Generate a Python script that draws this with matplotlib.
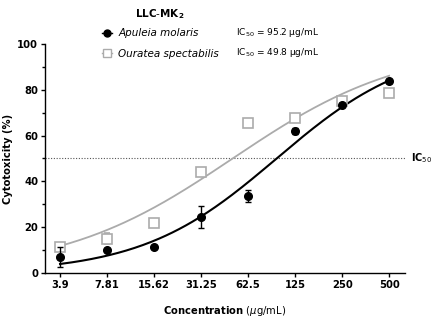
"""
Cytotoxicity of two plant extracts on LLC-MK2 cells.
"""

import matplotlib
matplotlib.use('Agg')
import matplotlib.pyplot as plt
import numpy as np

# Data
# ----------------------------------------------------------------------------

conc = [3.9, 7.81, 15.62, 31.25, 62.5, 125, 250, 500]
conc_labels = ['3.9', '7.81', '15.62', '31.25', '62.5', '125', '250', '500']

apuleia = [7.0, 10.2, 11.4, 24.5, 33.6, 62.0, 73.4, 83.8]
apuleia_err = [4.5, 0.8, 0.5, 4.7, 2.8, 1.2, 0.8, 0.8]

ouratea = [11.5, 15.0, 21.8, 44.0, 65.3, 67.8, 75.0, 78.4]
ouratea_err = [1.0, 2.5, 1.2, 1.5, 0.8, 1.0, 0.8, 0.8]

# fitted dose-response parameters (IC50 in ug/mL, Hill slope)
ic50_apuleia, hill_apuleia = 95.2, 1.0
ic50_ouratea, hill_ouratea = 49.8, 0.79

# Fitted curves
# ----------------------------------------------------------------------------

xfit = np.logspace(np.log10(conc[0]), np.log10(conc[-1]), 200)
fit_apuleia = 100 / (1 + (ic50_apuleia / xfit)**hill_apuleia)
fit_ouratea = 100 / (1 + (ic50_ouratea / xfit)**hill_ouratea)

# Plot
# ----------------------------------------------------------------------------

fig = plt.figure(figsize=(4.37, 3.25), dpi=100)
ax = fig.add_axes([0.103, 0.16, 0.824, 0.705])

gray = '#ababab'

ax.axhline(50, color='#555555', ls=(0, (1, 1.5)), lw=0.8, zorder=1)

ax.plot(xfit, fit_ouratea, color=gray, lw=1.3, zorder=2)
ax.plot(xfit, fit_apuleia, color='black', lw=1.5, zorder=3)

ax.errorbar(conc, ouratea, yerr=ouratea_err, fmt='s', ms=7, mfc='white',
            mec=gray, mew=1.2, ecolor=gray, elinewidth=1, capsize=2.5, zorder=4)
ax.errorbar(conc, apuleia, yerr=apuleia_err, fmt='o', ms=5.5, color='black',
            ecolor='black', elinewidth=1, capsize=2.5, zorder=5)

ax.set_xscale('log', base=2)
ax.set_xlim(3.9 / 2**0.32, 500 * 2**0.34)
ax.set_xticks(conc)
ax.set_xticklabels(conc_labels)
ax.xaxis.set_minor_locator(matplotlib.ticker.NullLocator())
ax.set_ylim(0, 100)
ax.set_yticks([0, 20, 40, 60, 80, 100])
ax.set_yticks([10, 30, 50, 70, 90], minor=True)

for s in ['top', 'right']:
    ax.spines[s].set_visible(False)
for s in ['left', 'bottom']:
    ax.spines[s].set_linewidth(1.0)

ax.tick_params(axis='both', length=3, width=1, labelsize=7.2, pad=2)
ax.tick_params(axis='y', which='minor', length=2, width=1)
for lab in ax.get_xticklabels() + ax.get_yticklabels():
    lab.set_fontweight('bold')

ax.set_ylabel('Cytotoxicity (%)', fontsize=7.2, fontweight='bold', labelpad=3)
fig.text(0.515, 0.035, r'$\bf{Concentration}$ ($\mu$g/mL)', ha='center',
         fontsize=7.2)

fig.text(0.94, 0.5 * 0.705 + 0.16, r'IC$_{50}$', fontsize=7,
         fontweight='bold', va='center', ha='left')

# Legend
fig.text(0.366, 0.957, r'$\bf{LLC}$-$\bf{MK_2}$', fontsize=7.5, ha='center',
         va='center')
h1 = plt.Line2D([], [], color='black', marker='o', ms=5, lw=1)
h2 = plt.Line2D([], [], color=gray, marker='s', ms=6, mfc='white', lw=1)
leg = fig.legend([h1, h2], ['Apuleia molaris', 'Ouratea spectabilis'],
                 loc='upper left', bbox_to_anchor=(0.211, 0.942),
                 frameon=False, handlelength=1.0, handletextpad=0.6,
                 labelspacing=1.0, fontsize=7.5, borderpad=0.4)
for t in leg.get_texts():
    t.set_fontstyle('italic')

fig.text(0.54, 0.9015, r'IC$_{50}$ = 95.2 µg/mL', fontsize=6.5, va='center')
fig.text(0.54, 0.837, r'IC$_{50}$ = 49.8 µg/mL', fontsize=6.5, va='center')

fig.savefig('out.png', dpi=100)
